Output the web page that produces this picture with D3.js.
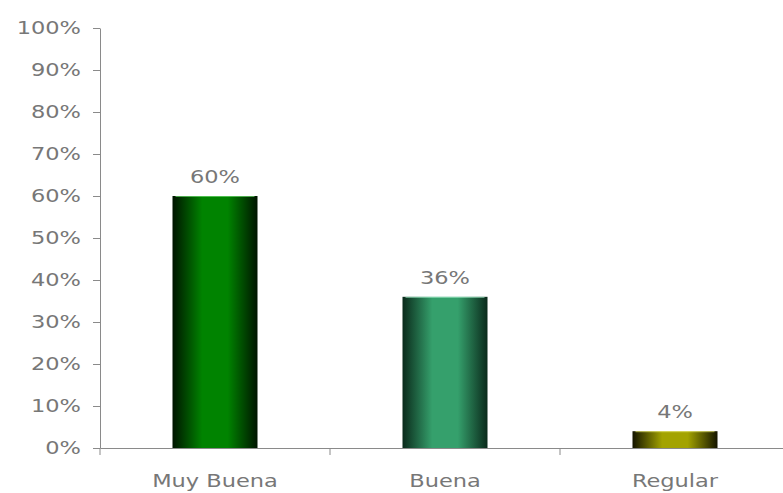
<!DOCTYPE html>
<html>
<head>
<meta charset="utf-8">
<script src="https://cdn.jsdelivr.net/npm/d3@7"></script>
<style>
  body { margin: 0; background: #fff; }
  svg { display: block; }
  .tick text, .lbl { font-family: "DejaVu Sans", Verdana, sans-serif; fill: #777; }
</style>
</head>
<body>
<svg id="chart"></svg>
<script>
// data
const categories = ['Muy Buena', 'Buena', 'Regular'];
const values = [0.60, 0.36, 0.04];
const yTicks = [0, 0.1, 0.2, 0.3, 0.4, 0.5, 0.6, 0.7, 0.8, 0.9, 1.0];

// bar colours: [edge, centre, top highlight]
const barColors = [['#001400', '#008300', '#6fd86f'], ['#0a2a1b', '#35a06c', '#a8f0cc'], ['#141400', '#a3a300', '#e8e870']];

const width = 783, height = 493;
const pad = {left: 100, right: -7, top: 28, bottom: 45};
const fs = 18, sx = 1.25;   // font size and horizontal stretch of the text

const svg = d3.select('#chart').attr('width', width).attr('height', height);

const x = d3.scaleBand().domain(categories).range([pad.left, width - pad.right]).padding(0);
const y = d3.scaleLinear().domain([0, 1]).range([height - pad.bottom, pad.top]);
const barW = 85;

// gradients
const defs = svg.append('defs');
barColors.forEach((c, i) => {
    let g = defs.append('linearGradient').attr('id', 'grad' + i)
        .attr('x1', 0).attr('x2', 1).attr('y1', 0).attr('y2', 0);
    g.append('stop').attr('offset', '0%').attr('stop-color', c[0]);
    g.append('stop').attr('offset', '35%').attr('stop-color', c[1]);
    g.append('stop').attr('offset', '65%').attr('stop-color', c[1]);
    g.append('stop').attr('offset', '100%').attr('stop-color', c[0]);
});

// bars
let bars = svg.append('g');
bars.selectAll('rect')
    .data(values)
    .join('rect')
    .attr('x', (d, i) => x(categories[i]) + (x.bandwidth() - barW) / 2)
    .attr('y', d => y(d))
    .attr('width', barW)
    .attr('height', d => y(0) - y(d))
    .attr('fill', (d, i) => `url(#grad${i})`);
// thin light line on top of each bar
bars.selectAll('line')
    .data(values)
    .join('line')
    .attr('x1', (d, i) => x(categories[i]) + (x.bandwidth() - barW) / 2 + 3)
    .attr('x2', (d, i) => x(categories[i]) + (x.bandwidth() + barW) / 2 - 3)
    .attr('y1', d => y(d) + 0.5).attr('y2', d => y(d) + 0.5)
    .attr('stroke', (d, i) => barColors[i][2]).attr('stroke-opacity', 0.7);

// value labels
svg.append('g').selectAll('text')
    .data(values)
    .join('text')
    .attr('class', 'lbl')
    .attr('text-anchor', 'middle')
    .attr('font-size', fs)
    .attr('transform', (d, i) => `translate(${x(categories[i]) + x.bandwidth() / 2}, ${y(d) - 13}) scale(${sx},1)`)
    .text(d => d3.format('.0%')(d));

// y axis
let axis_y = d3.axisLeft(y).tickValues(yTicks).tickFormat(d3.format('.0%'))
    .tickSize(7).tickSizeOuter(0).tickPadding(12);
svg.append('g')
    .attr('transform', `translate(${pad.left}, 0)`)
    .call(axis_y)
    .call(g => g.selectAll('path, line').attr('stroke', '#8a8a8a'))
    .call(g => g.selectAll('text').attr('font-size', fs)
        .attr('x', -19 / sx).attr('transform', `scale(${sx},1)`));

// x axis
let axis_x = d3.axisBottom(x).tickSize(0).tickSizeOuter(0).tickPadding(26);
svg.append('g')
    .attr('transform', `translate(0, ${y(0)})`)
    .call(axis_x)
    .call(g => g.select('.domain').attr('stroke', '#8a8a8a'))
    .call(g => g.selectAll('text').attr('font-size', fs).attr('transform', `scale(${sx},1)`)
        .attr('x', 0));

// category boundary ticks
svg.append('g').selectAll('line')
    .data(categories)
    .join('line')
    .attr('x1', d => x(d)).attr('x2', d => x(d))
    .attr('y1', y(0)).attr('y2', y(0) + 7)
    .attr('stroke', '#8a8a8a');
</script>
</body>
</html>
